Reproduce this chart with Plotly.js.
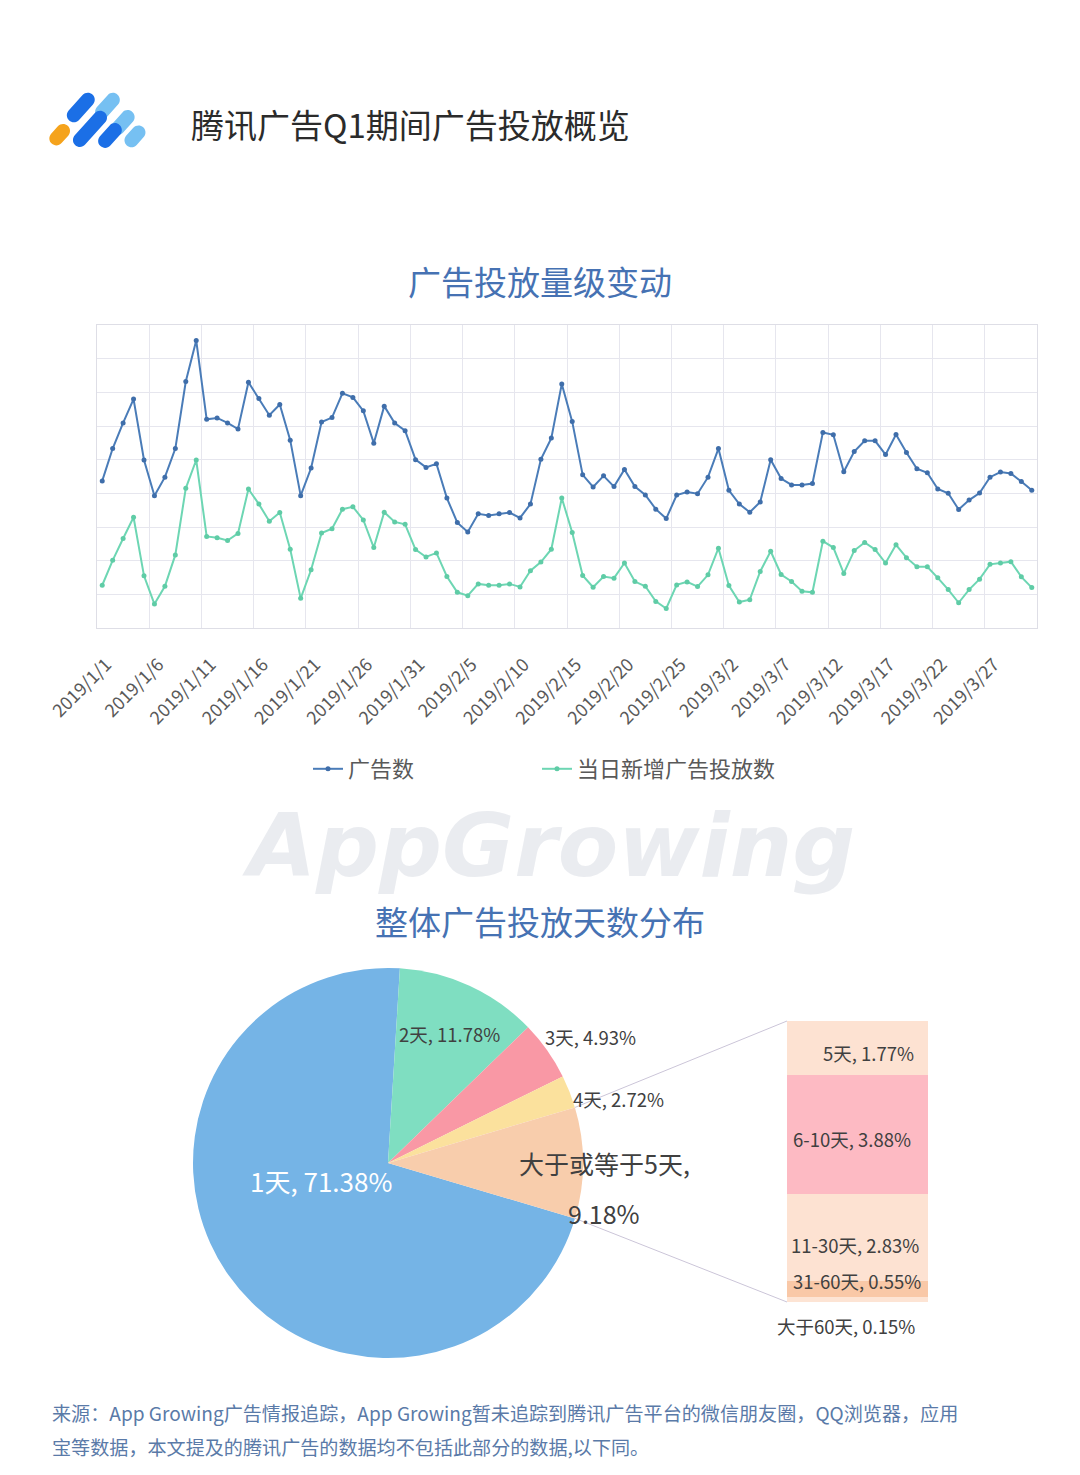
<!DOCTYPE html>
<html>
<head>
<meta charset="utf-8">
<script src="https://cdn.plot.ly/plotly-3.0.1.min.js"></script>
<style>
html,body{margin:0;padding:0;background:#fff;}
#chart{width:1080px;height:1475px;}
</style>
</head>
<body>
<div id="chart"></div>
<script>
// ---------- data ----------
const monthDays = [31, 28, 31];
const dates = [];
for (let m = 0; m < 3; m++) for (let d = 1; d <= monthDays[m]; d++) dates.push('2019/' + (m + 1) + '/' + d);

const adCount = [4370,5330,6090,6800,4990,3930,4480,5330,7320,8540,
  6200,6240,6090,5910,7300,6820,6320,6640,5580,3930,
  4750,6120,6250,6970,6850,6450,5490,6590,6090,5860,
  5000,4770,4880,3860,3130,2850,3390,3340,3390,3430,
  3270,3680,5010,5640,7250,6130,4550,4190,4520,4200,
  4710,4200,3950,3530,3250,3950,4040,3990,4480,5330,
  4090,3680,3440,3740,5000,4440,4250,4250,4290,5810,
  5740,4640,5240,5560,5560,5150,5750,5210,4730,4610,
  4130,4000,3520,3800,4010,4480,4630,4590,4350,4090];

const newAds = [1270,2010,2660,3290,1550,710,1240,2170,4150,4990,
  2720,2680,2600,2810,4130,3680,3170,3430,2340,880,
  1730,2820,2950,3530,3600,3210,2390,3440,3150,3080,
  2330,2110,2230,1530,1060,960,1310,1270,1270,1310,
  1220,1700,1960,2340,3860,2840,1560,1210,1530,1480,
  1930,1380,1240,790,580,1280,1370,1230,1580,2370,
  1260,770,840,1680,2280,1590,1380,1090,1060,2580,
  2390,1620,2300,2540,2330,1930,2470,2090,1820,1820,
  1490,1140,750,1140,1450,1890,1930,1970,1520,1200];

const seriesNames = ['广告数', '当日新增广告投放数'];
const tickDates = dates.filter((d, i) => i % 5 === 0);

const pieLabels = ['1天', '2天', '3天', '4天', '大于或等于5天'];
const pieValues = [71.38, 11.78, 4.93, 2.72, 9.18];

const barLabels = ['5天', '6-10天', '11-30天', '31-60天', '大于60天'];
const barValues = [1.77, 3.88, 2.83, 0.55, 0.15];

// ---------- helpers ----------
const W = 1080, H = 1475;
const px = x => x / W;
const py = y => 1 - y / H;
const FONT = '"Noto Sans CJK SC", "Noto Sans", sans-serif';

function capsule(cx, cy, L, r, angDeg) {
  const a = angDeg * Math.PI / 180;
  const ux = Math.cos(a), uy = -Math.sin(a);
  const nx = -uy, ny = ux;
  const k = 0.5523 * r;
  const p1 = [cx - ux * L / 2, cy - uy * L / 2], p2 = [cx + ux * L / 2, cy + uy * L / 2];
  const P = (x, y) => px(x).toFixed(5) + ',' + py(y).toFixed(5);
  const A = [p1[0] + nx * r, p1[1] + ny * r], B = [p2[0] + nx * r, p2[1] + ny * r];
  const C = [p2[0] - nx * r, p2[1] - ny * r], D = [p1[0] - nx * r, p1[1] - ny * r];
  const E = [p2[0] + ux * r, p2[1] + uy * r], F = [p1[0] - ux * r, p1[1] - uy * r];
  let s = 'M' + P(A[0], A[1]) + ' L' + P(B[0], B[1]);
  s += ' C' + P(B[0] + ux * k, B[1] + uy * k) + ' ' + P(E[0] + nx * k, E[1] + ny * k) + ' ' + P(E[0], E[1]);
  s += ' C' + P(E[0] - nx * k, E[1] - ny * k) + ' ' + P(C[0] + ux * k, C[1] + uy * k) + ' ' + P(C[0], C[1]);
  s += ' L' + P(D[0], D[1]);
  s += ' C' + P(D[0] - ux * k, D[1] - uy * k) + ' ' + P(F[0] - nx * k, F[1] - ny * k) + ' ' + P(F[0], F[1]);
  s += ' C' + P(F[0] + nx * k, F[1] + ny * k) + ' ' + P(A[0] - ux * k, A[1] - uy * k) + ' ' + P(A[0], A[1]) + ' Z';
  return s;
}

const LBLUE = '#76c0f2', DBLUE = '#1b6fe6', ORANGE = '#f5a31c';
const logo = [
  [107.5, 105.8, 16, LBLUE], [122.8, 122.5, 14.5, LBLUE], [135, 136.3, 10.5, LBLUE],
  [80.8, 107.5, 20.8, DBLUE], [90, 128.8, 30, DBLUE], [110, 135.5, 14.5, DBLUE],
  [59.7, 134.7, 10, ORANGE]
];
const shapes = logo.map(c => ({
  type: 'path', xref: 'paper', yref: 'paper', path: capsule(c[0], c[1], c[2], 7, 48),
  fillcolor: c[3], line: {width: 0}
}));

// ---------- line chart ----------
const lineColors = ['#4a7cb8', '#6dd6b3'];
const traces = [
  {x: [], y: [], type: 'scatter', mode: 'lines', xaxis: 'x3', yaxis: 'y', showlegend: false, hoverinfo: 'none'},
  {x: dates, y: adCount, name: seriesNames[0], type: 'scatter', mode: 'lines+markers',
   line: {color: lineColors[0], width: 2}, marker: {color: '#3f6eaa', size: 5},
   xaxis: 'x', yaxis: 'y', legend: 'legend'},
  {x: dates, y: newAds, name: seriesNames[1], type: 'scatter', mode: 'lines+markers',
   line: {color: lineColors[1], width: 2}, marker: {color: '#5fcca6', size: 5},
   xaxis: 'x', yaxis: 'y', legend: 'legend2'}
];

// ---------- pie ----------
const pieColors = ['#75b4e6', '#7fdec1', '#f998a5', '#fbe19d', '#f8cdac'];
const pieRotation = 106.5;
const pieCx = 388, pieCy = 1163, pieR = 195;
traces.push({
  type: 'pie', labels: pieLabels, values: pieValues, sort: false, direction: 'clockwise',
  rotation: pieRotation, textinfo: 'none', hoverinfo: 'none', showlegend: false,
  marker: {colors: pieColors, line: {width: 0}},
  domain: {x: [px(pieCx - pieR), px(pieCx + pieR)], y: [py(pieCy + pieR), py(pieCy - pieR)]}
});

// ---------- bar of pie ----------
const barColors = ['#fde2d2', '#fdbac3', '#fde2d2', '#f9c8a7', '#fde4d4'];
for (let i = barValues.length - 1; i >= 0; i--) {
  traces.push({type: 'bar', x: ['g'], y: [barValues[i]], name: barLabels[i], showlegend: false,
    marker: {color: barColors[i], line: {width: 0}}, xaxis: 'x2', yaxis: 'y2', hoverinfo: 'none'});
}
const barTotal = barValues.reduce((a, b) => a + b, 0);
const barLeft = 787, barRight = 928, barTop = 1021, barBottom = 1302;

// connectors from pie slice edges (computed from data)
const pieTotal = pieValues.reduce((a, b) => a + b, 0);
const pieBefore = pieValues.slice(0, 4).reduce((a, b) => a + b, 0);
const angStart = (pieRotation + 360 * pieBefore / pieTotal) * Math.PI / 180;
const angEnd = (pieRotation + 360) * Math.PI / 180;
const edge = a => [pieCx + pieR * Math.sin(a), pieCy - pieR * Math.cos(a)];
const eS = edge(angStart), eE = edge(angEnd);
shapes.push({type: 'line', xref: 'paper', yref: 'paper', x0: px(eS[0]), y0: py(eS[1]), x1: px(barLeft), y1: py(barTop),
  line: {color: '#cbc5d8', width: 1}});
shapes.push({type: 'line', xref: 'paper', yref: 'paper', x0: px(eE[0]), y0: py(eE[1]), x1: px(barLeft), y1: py(barBottom),
  line: {color: '#cbc5d8', width: 1}});

// ---------- annotations ----------
const ann = [];
const txt = (text, x, y, size, color, opts) => Object.assign({
  text: text, xref: 'paper', yref: 'paper', x: px(x), y: py(y), showarrow: false,
  xanchor: 'center', yanchor: 'middle', font: {family: FONT, size: size, color: color}
}, opts || {});

ann.push(txt('AppGrowing', 548, 846, 88, 'rgba(214,218,226,0.5)',
  {font: {family: '"DejaVu Sans", sans-serif', size: 88, color: 'rgba(214,218,226,0.5)', style: 'italic', weight: 700}}));
ann.push(txt('腾讯广告Q1期间广告投放概览', 189, 124, 33, '#2b2b2b', {xanchor: 'left'}));
ann.push(txt('广告投放量级变动', 540, 281, 33, '#4672b3'));
ann.push(txt('整体广告投放天数分布', 540, 921, 33, '#4672b3'));

const pct = v => v.toFixed(2) + '%';
const LBL = '#404040';
ann.push(txt(pieLabels[0] + ', ' + pct(pieValues[0]), 321, 1180, 26, '#ffffff'));
ann.push(txt(pieLabels[1] + ', ' + pct(pieValues[1]), 449, 1034, 18.5, LBL));
ann.push(txt(pieLabels[2] + ', ' + pct(pieValues[2]), 590, 1037, 18.5, LBL));
ann.push(txt(pieLabels[3] + ', ' + pct(pieValues[3]), 618, 1099, 18.5, LBL));
ann.push(txt(pieLabels[4] + ',', 604, 1163, 25, LBL));
ann.push(txt(pct(pieValues[4]), 604, 1213, 25, LBL));

// bar labels at stacked midpoints
const barShift = [[11, -5], [-6, -4], [-3, -8], [-1, 8], [-12, -26]];
let stackTop = barTotal;
for (let i = 0; i < barValues.length; i++) {
  const mid = stackTop - barValues[i] / 2;
  stackTop -= barValues[i];
  ann.push({text: barLabels[i] + ', ' + pct(barValues[i]), xref: 'x2', yref: 'y2', x: 'g', y: mid,
    xshift: barShift[i][0], yshift: barShift[i][1], showarrow: false, xanchor: 'center', yanchor: 'middle',
    font: {family: FONT, size: 18.5, color: LBL}});
}

const FOOT = '#5a7aa8';
ann.push(txt('来源：App Growing广告情报追踪，App Growing暂未追踪到腾讯广告平台的微信朋友圈，QQ浏览器，应用', 50, 1413, 19.1, FOOT, {xanchor: 'left'}));
ann.push(txt('宝等数据，本文提及的腾讯广告的数据均不包括此部分的数据,以下同。', 50, 1447, 19.1, FOOT, {xanchor: 'left'}));

// ---------- layout ----------
const GRID = '#e6e6ee';
const layout = {
  width: W, height: H, margin: {l: 0, r: 0, t: 0, b: 0, pad: 0},
  paper_bgcolor: '#ffffff', plot_bgcolor: 'rgba(0,0,0,0)',
  font: {family: FONT, color: '#595959'},
  barmode: 'stack', bargap: 0,
  xaxis: {type: 'category', domain: [px(97), px(1037)], anchor: 'y', range: [-0.5, dates.length - 0.5],
    tickmode: 'array', tickvals: tickDates, ticktext: tickDates, tickangle: -45,
    showgrid: false, showline: true, mirror: true, linecolor: '#dedee6',
    ticks: '', ticklabelstandoff: 18, ticklabelshift: 4,
    tickfont: {family: FONT, size: 18, color: '#595959'}, zeroline: false, fixedrange: true},
  xaxis3: {type: 'linear', overlaying: 'x', anchor: 'y', range: [-0.5, dates.length - 0.5],
    tickmode: 'linear', tick0: -0.5, dtick: 5, showgrid: true, gridcolor: GRID, gridwidth: 1,
    showticklabels: false, ticks: '', zeroline: false, showline: false, fixedrange: true},
  yaxis: {domain: [py(628), py(325)], anchor: 'x', range: [0, 9000], dtick: 1000, tick0: 0,
    showticklabels: false, showgrid: true, gridcolor: GRID, zeroline: false,
    showline: true, mirror: true, linecolor: '#dedee6', ticks: '', fixedrange: true},
  xaxis2: {type: 'category', domain: [px(barLeft), px(barRight)], anchor: 'y2', range: [-0.5, 0.5], visible: false},
  yaxis2: {domain: [py(barBottom), py(barTop)], anchor: 'x2', range: [0, barTotal], visible: false},
  legend: {orientation: 'h', x: px(308), y: py(748), xanchor: 'left', yanchor: 'top',
    font: {family: FONT, size: 22, color: '#595959'}, bgcolor: 'rgba(0,0,0,0)', itemwidth: 30},
  legend2: {orientation: 'h', x: px(537), y: py(748), xanchor: 'left', yanchor: 'top',
    font: {family: FONT, size: 22, color: '#595959'}, bgcolor: 'rgba(0,0,0,0)', itemwidth: 30},
  showlegend: true,
  shapes: shapes,
  annotations: ann
};

Plotly.newPlot('chart', traces, layout, {staticPlot: true, displayModeBar: false});
</script>
</body>
</html>
